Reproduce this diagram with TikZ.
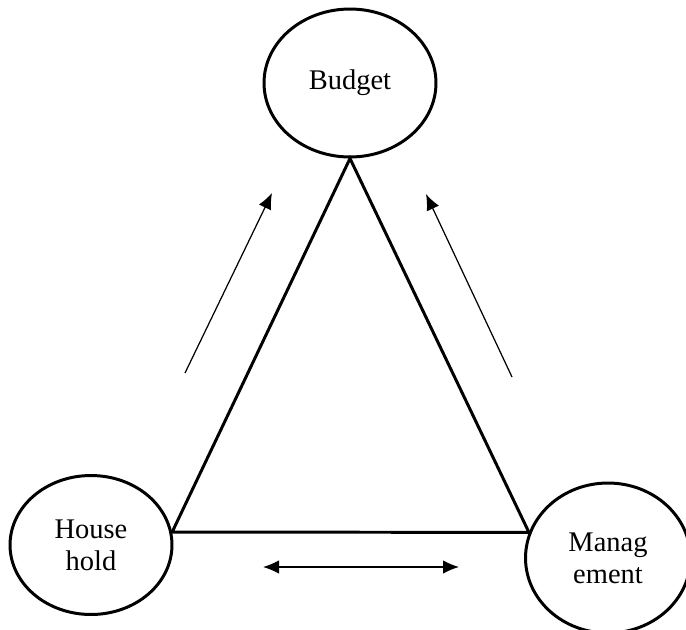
\documentclass[tikz,border=0pt]{standalone}
\usepackage{fontspec}
\setmainfont{Liberation Serif}
\usetikzlibrary{shapes.geometric,arrows.meta,positioning}

\begin{document}
\begin{tikzpicture}[
						x=0.02cm, y=-0.02cm,
						every node/.style = {font=\fontsize{16.2}{18.4}\selectfont, align=center},
						bubble/.style = {ellipse, draw, line width=1.7pt, inner sep=0pt},
						side/.style = {line width=1.7pt},
						flow/.style = {line width=0.7pt, -{Latex[length=0.32cm,width=0.27cm]}}
						]

					\useasboundingbox (0,0) rectangle (686,629);

					\node[bubble, minimum width=3.44cm, minimum height=2.96cm] (budget) at (350,83) {Budget};
					\node[bubble, minimum width=3.24cm, minimum height=2.78cm] (household) at (91,545) {House\\hold};
					\node[bubble, minimum width=3.3cm, minimum height=3.0cm] (management) at (608,558) {Manag\\ement};

					% triangle
					\draw[side] (budget.south) -- (household.9) -- (management.162) -- cycle;

					% arrows beside the sides
					\coordinate (hfrom) at (185,373);
					\coordinate (hto) at (272,193);
					\coordinate (mfrom) at (512,377);
					\coordinate (mto) at (426,194);
					\coordinate (bleft) at (263,567);
					\coordinate (bright) at (459,567);

					\draw[flow] (hfrom) -- (hto);
					\draw[flow] (mfrom) -- (mto);
					\draw[flow,{Latex[length=0.32cm,width=0.27cm]}-{Latex[length=0.32cm,width=0.27cm]}] (bleft) -- (bright);

				\end{tikzpicture}
\end{document}
